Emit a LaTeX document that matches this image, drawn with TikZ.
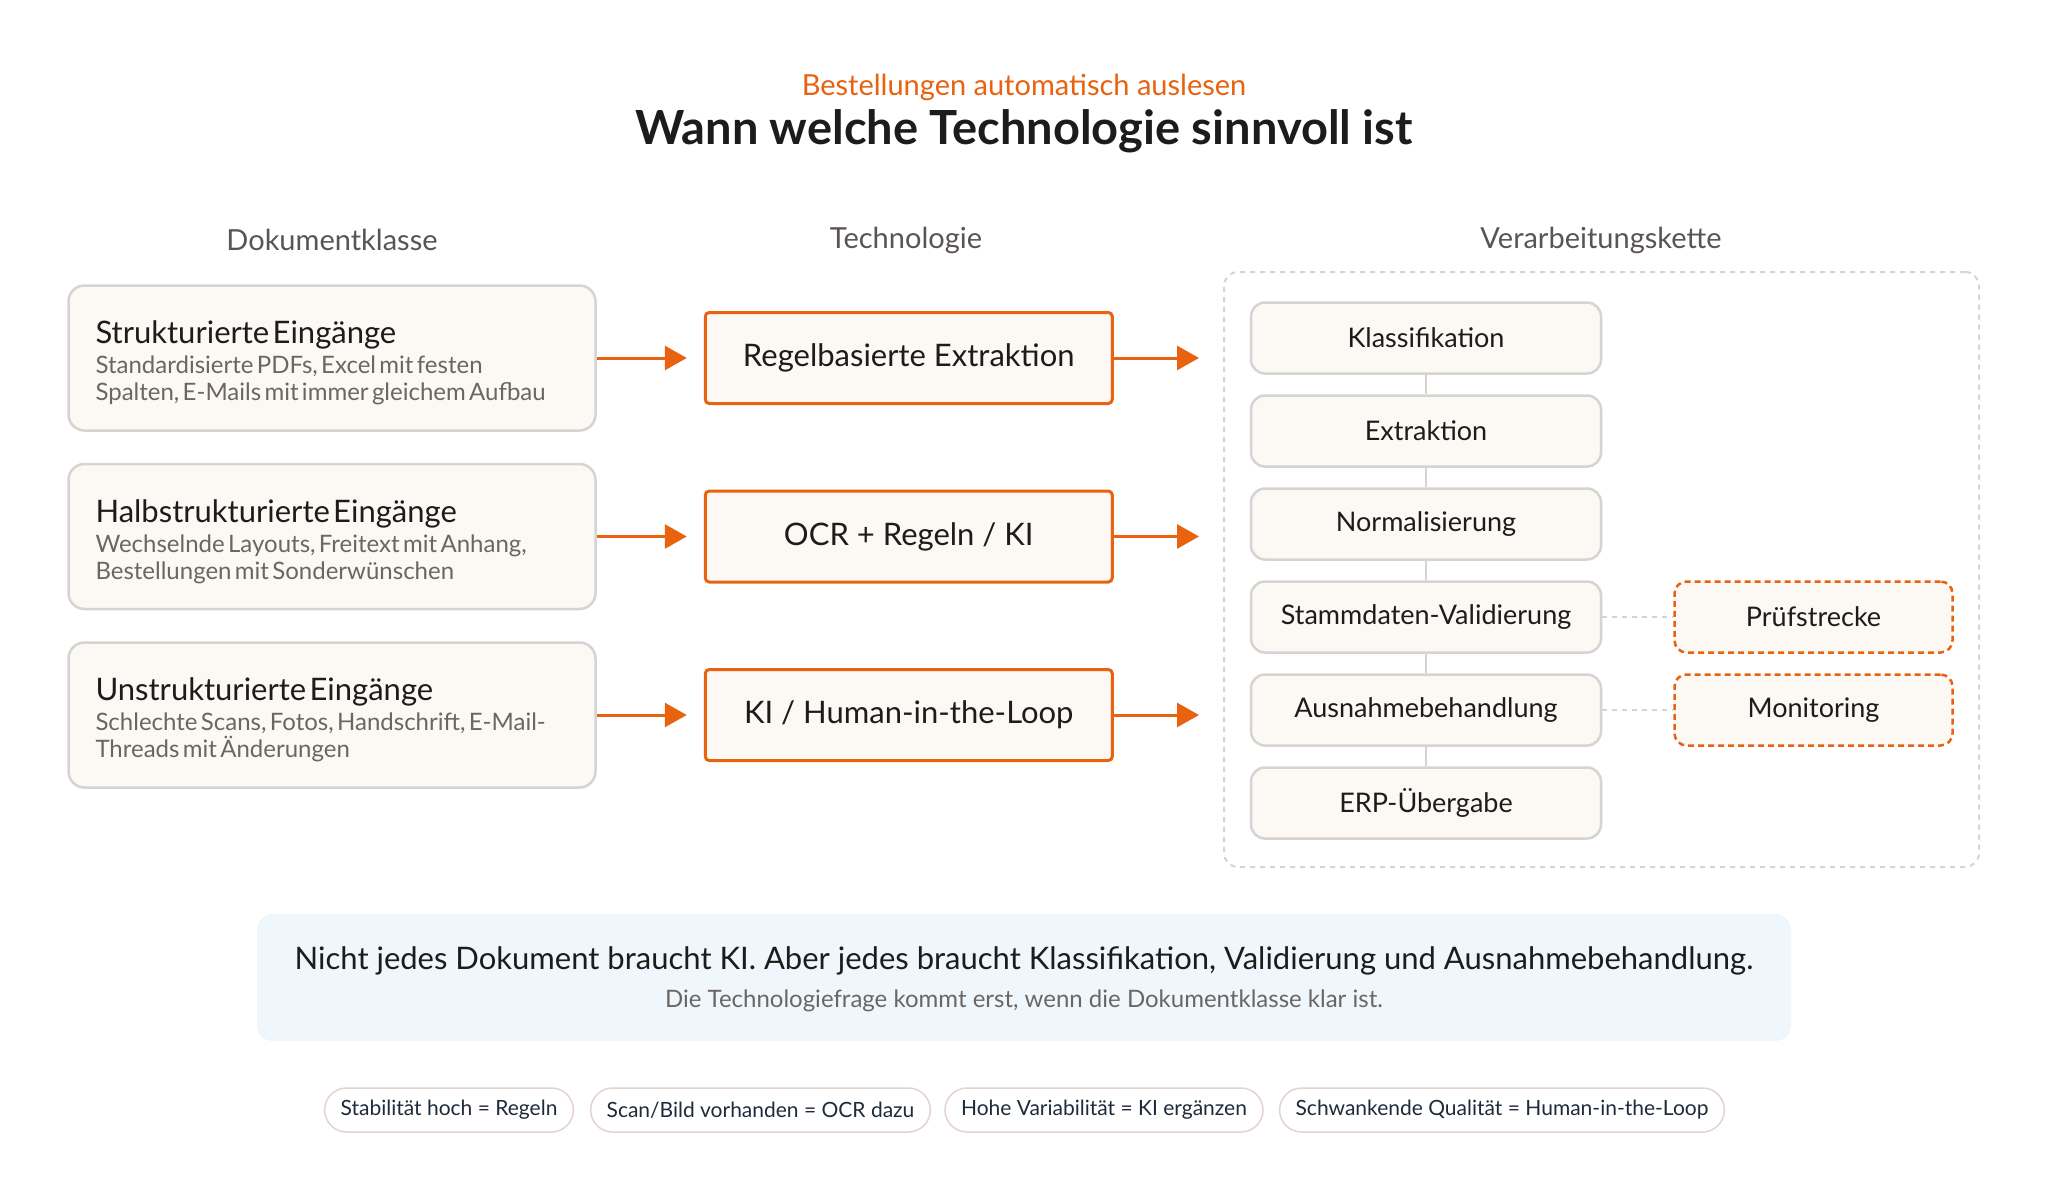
\documentclass[tikz,border=0pt]{standalone}
\usepackage{fontspec}
\setmainfont{Lato}
\usetikzlibrary{positioning,arrows.meta}

\definecolor{accent}{HTML}{E8620F}
\definecolor{cream}{HTML}{FCF8F4}
\definecolor{edgegray}{HTML}{D6D4D2}
\definecolor{inkdark}{HTML}{1C1C1C}
\definecolor{inkgray}{HTML}{6B6663}
\definecolor{headgray}{HTML}{5A5552}
\definecolor{notebg}{HTML}{EFF7FC}
\definecolor{pillink}{HTML}{1F2B3A}
\definecolor{pilledge}{HTML}{E3D3D3}

\newcommand{\headtext}{\fontsize{31}{36}\selectfont\color{inkdark}\rule{0pt}{33pt}}
\newcommand{\desctext}{\fontsize{24}{27}\selectfont\color{inkgray}}

\begin{document}
\begin{tikzpicture}[x=1pt,y=-1pt,
	classbox/.style={draw=edgegray, line width=2.5pt, fill=cream, rounded corners=16pt,
		text width=473pt, inner xsep=27pt, minimum height=145pt, align=left},
	techbox/.style={draw=accent, line width=3pt, fill=cream, rounded corners=4pt,
		minimum width=407pt, minimum height=91pt, text=inkdark, font=\fontsize{31}{36}\selectfont},
	stepnode/.style={draw=edgegray, line width=2.5pt, fill=cream, rounded corners=14pt,
		minimum width=350pt, minimum height=71pt, text=inkdark, font=\fontsize{27}{32}\selectfont},
	sidenode/.style={draw=accent, line width=2.5pt, dash pattern=on 6pt off 4pt, fill=cream,
		rounded corners=12pt, minimum width=278pt, minimum height=71pt, text=inkdark,
		font=\fontsize{27}{32}\selectfont},
	colhead/.style={text=headgray, font=\fontsize{29}{34}\selectfont},
	flow/.style={accent, line width=3pt, -{Triangle[length=22pt,width=24pt]}},
	link/.style={edgegray, line width=2.5pt},
	hint/.style={edgegray, line width=2pt, dash pattern=on 5pt off 5pt},
	pill/.style={draw=pilledge, line width=1.5pt, fill=white, rounded corners=22pt,
		minimum height=44pt, inner xsep=16pt, text=pillink, font=\fontsize{21}{25}\selectfont}
	]
	\useasboundingbox[fill=white] (0,0) rectangle (2048,1201);

	% titles
	\node[text=accent, font=\fontsize{29}{34}\selectfont] (kicker) at (1024,87) {Bestellungen automatisch auslesen};
	\node[text=inkdark, font=\fontsize{47}{56}\selectfont\bfseries] (title) at (1024,131) {Wann welche Technologie sinnvoll ist};

	\node[colhead] (h1) at (332,240) {Dokumentklasse};
	\node[colhead] (h2) at (906,240) {Technologie};
	\node[colhead] (h3) at (1601,240) {Verarbeitungskette};

	% dokumentklassen
	\node[classbox] (c1) at (332,358) {{\headtext Strukturierte Eingänge\par}\vspace{3pt}
		{\desctext Standardisierte PDFs, Excel mit festen\\Spalten, E-Mails mit immer gleichem Aufbau\par}};
	\node[classbox, below=31pt of c1] (c2) {{\headtext Halbstrukturierte Eingänge\par}\vspace{3pt}
		{\desctext Wechselnde Layouts, Freitext mit Anhang,\\Bestellungen mit Sonderwünschen\par}};
	\node[classbox, below=31pt of c2] (c3) {{\headtext Unstrukturierte Eingänge\par}\vspace{3pt}
		{\desctext Schlechte Scans, Fotos, Handschrift, E-Mail-\\Threads mit Änderungen\par}};

	% technologien
	\node[techbox, right=107pt of c1] (t1) {Regelbasierte Extraktion};
	\node[techbox, right=107pt of c2] (t2) {OCR + Regeln / KI};
	\node[techbox, right=107pt of c3] (t3) {KI / Human-in-the-Loop};

	% verarbeitungskette
	\node[draw=edgegray, line width=2pt, dash pattern=on 5pt off 5pt, rounded corners=14pt,
		minimum width=755pt, minimum height=595pt] (frame) at (1601.5,569.5) {};

	\node[stepnode] (s1) at (1426,338) {Klassifikation};
	\node[stepnode, below=19.5pt of s1] (s2) {Extraktion};
	\node[stepnode, below=19.5pt of s2] (s3) {Normalisierung};
	\node[stepnode, below=19.5pt of s3] (s4) {Stammdaten-Validierung};
	\node[stepnode, below=19.5pt of s4] (s5) {Ausnahmebehandlung};
	\node[stepnode, below=19.5pt of s5] (s6) {ERP-Übergabe};

	\node[sidenode, right=71pt of s4] (p1) {Prüfstrecke};
	\node[sidenode, right=71pt of s5] (p2) {Monitoring};

	\foreach \a/\b in {s1/s2,s2/s3,s3/s4,s4/s5,s5/s6}
		\draw[link] (\a.south) -- (\b.north);
	\draw[hint] (s4.east) -- (p1.west);
	\draw[hint] (s5.east) -- (p2.west);

	% pfeile
	\coordinate (e1) at (1199,358);
	\coordinate (e2) at (1199,534);
	\coordinate (e3) at (1199,711);
	\foreach \i in {1,2,3}{
		\draw[flow, shorten >=17pt] (c\i.east) -- (t\i.west);
		\draw[flow] (t\i.east) -- (e\i |- t\i.east);
	}

	% fazit
	\node[fill=notebg, rounded corners=16pt, minimum width=1534pt, minimum height=127pt] (note) at (1024,977.5) {};
	\node[text=inkdark, font=\fontsize{31}{37}\selectfont] (msg) at (1024,961) {Nicht jedes Dokument braucht KI. Aber jedes braucht Klassifikation, Validierung und Ausnahmebehandlung.};
	\node[text=inkgray, font=\fontsize{24}{28}\selectfont] (submsg) at (1024,1001) {Die Technologiefrage kommt erst, wenn die Dokumentklasse klar ist.};

	% regeln
	\node[pill] (r1) at (449,1110) {Stabilität hoch = Regeln};
	\node[pill] (r2) at (760.5,1110) {Scan/Bild vorhanden = OCR dazu};
	\node[pill] (r3) at (1104,1110) {Hohe Variabilität = KI ergänzen};
	\node[pill] (r4) at (1502,1110) {Schwankende Qualität = Human-in-the-Loop};
\end{tikzpicture}
\end{document}
